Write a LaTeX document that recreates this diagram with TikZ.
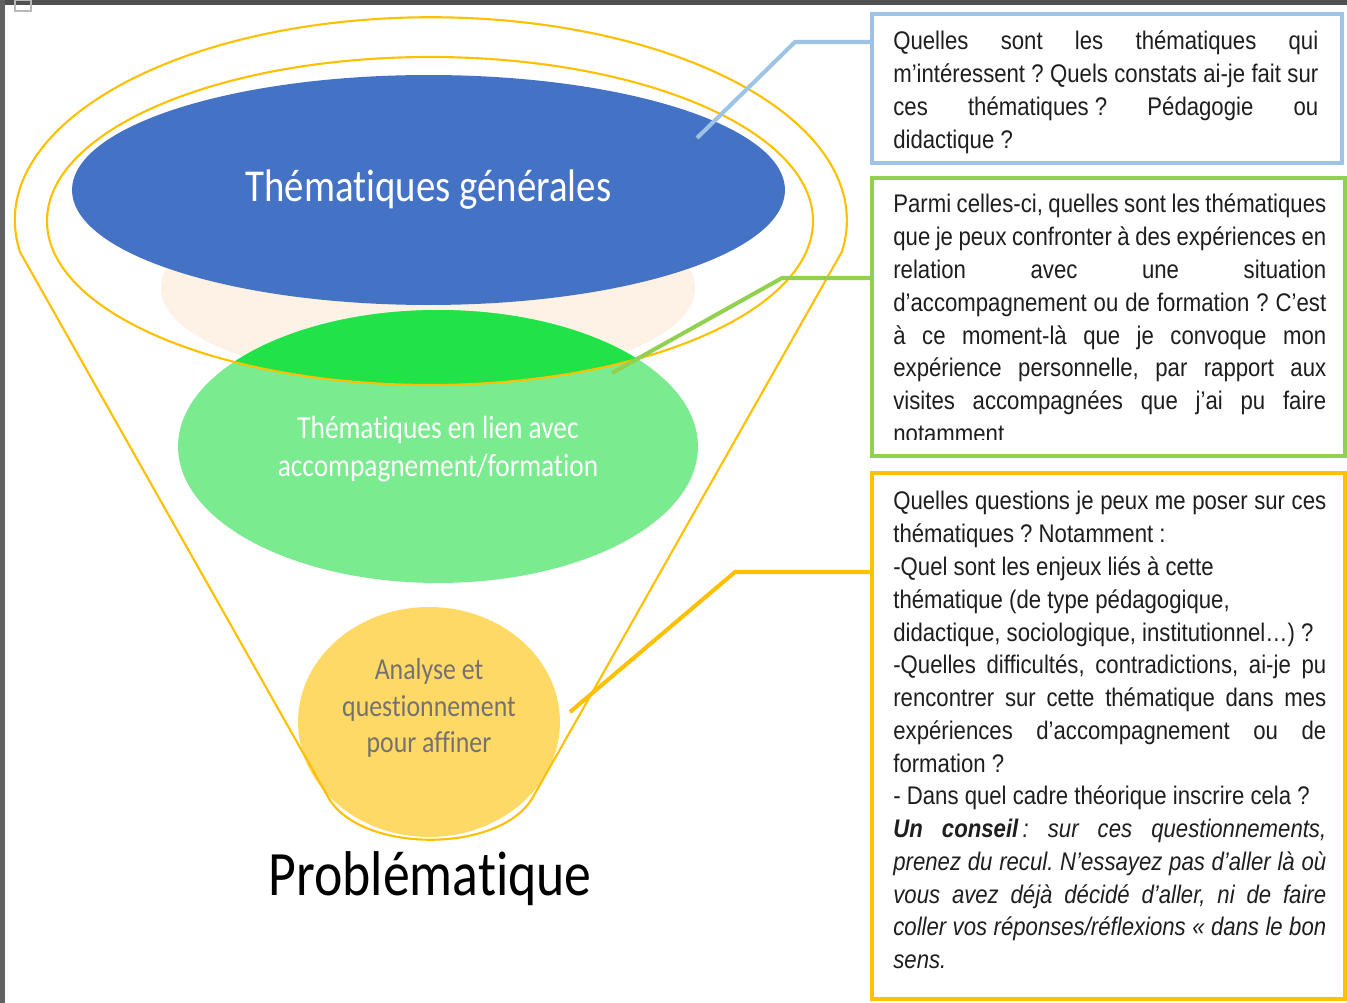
\documentclass[tikz,border=0pt]{standalone}
\usepackage{fontspec}
\setmainfont{Liberation Sans}[FakeStretch=0.87]
\newfontfamily\calfont{Carlito}[FakeStretch=0.85, Ligatures=NoCommon]
\usetikzlibrary{shapes.geometric}

\definecolor{genblue}{HTML}{4472C4}
\definecolor{liengreen}{HTML}{7BEB8F}
\definecolor{vifgreen}{HTML}{22E24A}
\definecolor{peach}{HTML}{FDF2E5}
\definecolor{anagold}{HTML}{FFD966}
\definecolor{funnelor}{HTML}{FFC000}
\definecolor{leadblue}{HTML}{9DC3E6}
\definecolor{leadgreen}{HTML}{92D050}
\definecolor{anagray}{HTML}{767171}
\definecolor{txtgray}{HTML}{1E1E1E}
\definecolor{framegray}{HTML}{505050}

\frenchspacing
\newcommand{\jline}[1]{\makebox[\linewidth][s]{#1}\par}
\newcommand{\rline}[1]{\makebox[\linewidth][l]{#1}\par}

\tikzset{
  zone/.style={ellipse, inner sep=0pt, outer sep=0pt, align=center},
  funnel/.style={draw=funnelor, line width=1.2pt},
  qbox/.style={draw=#1, line width=2.3pt, fill=white, inner sep=0pt},
  leader/.style={draw=#1, line width=2.3pt},
  qtext/.style={anchor=base west, inner sep=0pt, text=txtgray, font=\fontsize{14.5}{18.65}\selectfont}
}

\begin{document}
\begin{tikzpicture}[x=0.02cm, y=-0.02cm]
\useasboundingbox (0,0) rectangle (1347,1003);
\fill[white] (0,0) rectangle (1347,1003);
\fill[framegray] (0,0) rectangle (1347,5);
\fill[framegray!90] (0,0) rectangle (5,1003);
\draw[gray!55, line width=1pt] (15,0) rectangle (31,11);

\fill[peach] (428,288) ellipse [x radius=267, y radius=95];
\node[zone, fill=genblue, minimum width=14.26cm, minimum height=4.6cm, text=white,
  font=\calfont\fontsize{26}{30}\selectfont] (gen) at (428.5,190) {Thématiques générales};
\node[zone, fill=liengreen, minimum width=10.4cm, minimum height=5.46cm] (lien) at (438,446.5) {};
\begin{scope}
  \clip (430,221) ellipse [x radius=383, y radius=164];
  \fill[vifgreen] (lien.center) ellipse [x radius=260, y radius=136.5];
\end{scope}
\node[text=white, align=center, font=\calfont\fontsize{18.3}{21.6}\selectfont] (lientxt) at (438,449) {Thématiques en lien avec\\accompagnement/formation};
\node[zone, fill=anagold, minimum width=5.24cm, minimum height=4.6cm] (ana) at (429,722) {};
\node[text=anagray, align=center, font=\calfont\fontsize{17.3}{21}\selectfont] (anatxt) at (429,708) {Analyse et\\questionnement\\pour affiner};

\draw[funnel] (430,221) ellipse [x radius=383, y radius=164];
\draw[funnel] (20,252) arc [start angle=171, end angle=369, x radius=416, y radius=203]
  -- (533,797) .. controls (501,854) and (360,854) .. (328,797) -- cycle;

\node[anchor=base, inner sep=0pt, font=\calfont\fontsize{36}{40}\selectfont] (prob) at (430,895) {Problématique};

\node[qbox=leadblue, minimum width=9.4cm, minimum height=2.98cm] (qb1) at (1107,88.5) {};
\node[qbox=leadgreen, minimum width=9.46cm, minimum height=5.56cm] (qb2) at (1108.5,317) {};
\node[qbox=funnelor, minimum width=9.46cm, minimum height=10.52cm] (qb3) at (1108.5,736) {};

\node[qtext] (q1) at (893,50) {\parbox[t]{8.5cm}{%
\jline{Quelles sont les thématiques qui}
\jline{m’intéressent ? Quels constats ai-je fait sur}
\jline{ces \mbox{thématiques ?} Pédagogie ou}
\rline{didactique ?}}};

\begin{scope}
  \clip (872,178) rectangle (1345,440);
  \node[qtext] (q2) at (893,213) {\parbox[t]{8.66cm}{%
\jline{Parmi celles-ci, quelles sont les thématiques}
\jline{que je peux confronter à des expériences en}
\jline{relation avec une situation}
\jline{d’accompagnement ou de formation ? C’est}
\jline{à ce moment-là que je convoque mon}
\jline{expérience personnelle, par rapport aux}
\jline{visites accompagnées que j’ai pu faire}
\rline{notamment}}};
\end{scope}

\node[qtext] (q3) at (893,510) {\parbox[t]{8.66cm}{%
\jline{Quelles questions je peux me poser sur ces}
\rline{thématiques ? Notamment :}
\rline{-Quel sont les enjeux liés à cette}
\rline{thématique (de type pédagogique,}
\rline{didactique, sociologique, institutionnel…) ?}
\jline{-Quelles difficultés, contradictions, ai-je pu}
\jline{rencontrer sur cette thématique dans mes}
\jline{expériences d’accompagnement ou de}
\rline{formation ?}
\rline{- Dans quel cadre théorique inscrire cela ?}
\jline{\itshape\bfseries Un conseil\mdseries\,: sur ces questionnements,}
\jline{\itshape prenez du recul. N’essayez pas d’aller là où}
\jline{\itshape vous avez déjà décidé d’aller, ni de faire}
\jline{\itshape coller vos réponses/réflexions « dans le bon}
\rline{\itshape sens.}}};

\coordinate (tipgen) at (697,138);
\coordinate (bendgen) at (795,42);
\draw[leader=leadblue] (tipgen) -- (bendgen) -- (bendgen -| qb1.west);
\coordinate (tiplien) at (612,373);
\coordinate (bendlien) at (782,278);
\draw[leader=leadgreen] (tiplien) -- (bendlien) -- (bendlien -| qb2.west);
\coordinate (tipana) at (570,712);
\coordinate (bendana) at (735,572);
\draw[leader=funnelor] (tipana) -- (bendana) -- (bendana -| qb3.west);
\end{tikzpicture}
\end{document}
